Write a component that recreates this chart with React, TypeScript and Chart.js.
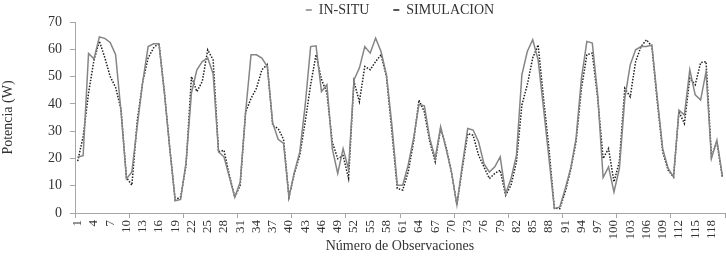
import React, { useEffect, useRef } from 'react';
import { Chart, registerables } from 'chart.js';

Chart.register(...registerables);

// Observation numbers (categories)
const categories: string[] = [
  '1', '2', '3', '4', '5', '6', '7', '8', '9', '10',
  '11', '12', '13', '14', '15', '16', '17', '18', '19', '20',
  '21', '22', '23', '24', '25', '26', '27', '28', '29', '30',
  '31', '32', '33', '34', '35', '36', '37', '38', '39', '40',
  '41', '42', '43', '44', '45', '46', '47', '48', '49', '50',
  '51', '52', '53', '54', '55', '56', '57', '58', '59', '60',
  '61', '62', '63', '64', '65', '66', '67', '68', '69', '70',
  '71', '72', '73', '74', '75', '76', '77', '78', '79', '80',
  '81', '82', '83', '84', '85', '86', '87', '88', '89', '90',
  '91', '92', '93', '94', '95', '96', '97', '98', '99', '100',
  '101', '102', '103', '104', '105', '106', '107', '108', '109', '110',
  '111', '112', '113', '114', '115', '116', '117', '118', '119', '120',
];

// IN-SITU power (W)
const inSitu: number[] = [
  20.5, 21, 58.5, 56.5, 64.5, 64, 62.5, 58, 37, 12.5,
  15, 32, 48, 61, 62, 62, 44, 23.5, 4.5, 5,
  18.5, 44, 52.5, 55.5, 56.8, 51, 22.4, 20.6, 13.2, 5.8,
  11.4, 37, 58, 58, 56.8, 53.7, 33, 27, 25.5, 5.8,
  15, 22.4, 39.6, 61, 61.3, 44.5, 47, 23.6, 14.5, 23.6,
  16, 48.8, 53.1, 61, 58.6, 64.1, 59.2, 50.6, 32.3, 10.2,
  10.2, 17.5, 27.3, 39.8, 39.3, 27.3, 20, 31.6, 23.6, 15,
  3, 17.5, 31, 30.4, 26.1, 18.1, 15, 16.9, 20.6, 7,
  12.6, 21.2, 50.6, 59.2, 63.5, 56.1, 38.4, 20, 1.6, 2.2,
  8.9, 16.3, 27.3, 49.4, 62.9, 62.3, 43.3, 13, 16.9, 7.7,
  16.3, 42, 54.3, 59.8, 61, 61, 61.6, 42, 23.6, 16.3,
  13.2, 37.7, 35.9, 52.5, 43.3, 41.4, 51.8, 20, 26.7, 13.8,
];

// SIMULACION power (W)
const simulacion: number[] = [
  19, 28, 44, 56, 63, 57, 50, 46, 38, 13,
  10.2, 34, 48, 56.8, 60.5, 62.3, 44.5, 23.7, 4.8, 5.9,
  17.5, 50, 44.5, 48.2, 59.8, 56.1, 22.4, 23, 13.8, 5.8,
  10.2, 37, 42, 45.7, 52.5, 54.4, 32, 31, 27, 5.8,
  14.5, 21.2, 33.5, 47, 58, 49, 44, 26, 19.9, 21,
  12.7, 48.2, 40.8, 53.7, 52.5, 55.5, 58, 50, 29.8, 9,
  8.4, 15, 26, 41.4, 37, 26.1, 18.8, 31, 24.3, 15,
  3, 16.3, 29.1, 28.5, 21.2, 16.9, 12.6, 14.5, 15.7, 6.5,
  10.2, 18.8, 39.6, 47, 56.8, 61.6, 42, 23.6, 1.8, 1.6,
  7.7, 15.7, 26.1, 45.7, 58, 58.6, 42, 20, 23.6, 11.4,
  18.8, 45.7, 42.6, 55.5, 61, 63.5, 61, 40.8, 22.4, 15.7,
  13.2, 37.1, 32.8, 49.4, 47, 55.1, 55.5, 20.6, 26.1, 13.2,
];

const Y_MIN = 0;
const Y_MAX = 70;
const Y_STEP = 10;
const LABEL_EVERY = 3;
const TICK_MARK_EVERY = 10;

const FONT = "'Liberation Serif', 'Times New Roman', serif";
const TEXT = '#333333';
const AXIS = '#a6a6a6';

export default function App() {
  const ref = useRef<HTMLCanvasElement>(null);

  useEffect(() => {
    const canvas = ref.current;
    if (!canvas) return;
    const chart = new Chart(canvas, {
      type: 'line',
      data: {
        labels: categories,
        datasets: [
          {
            label: 'IN-SITU',
            data: inSitu,
            borderColor: '#858585',
            backgroundColor: '#858585',
            borderWidth: 1.5,
            pointRadius: 0,
            tension: 0,
            fill: false,
          },
          {
            label: 'SIMULACION',
            data: simulacion,
            borderColor: '#1e1e1e',
            backgroundColor: '#1e1e1e',
            borderWidth: 1.5,
            borderDash: [1.5, 1.5],
            pointRadius: 0,
            tension: 0,
            fill: false,
          },
        ],
      },
      options: {
        responsive: false,
        animation: false,
        devicePixelRatio: 1,
        layout: { padding: { top: -21, right: 1, left: 0, bottom: 0 } },
        plugins: {
          legend: {
            position: 'top',
            fullSize: false,
            maxHeight: 43,
            labels: {
              usePointStyle: true,
              pointStyle: 'line',
              pointStyleWidth: 6,
              padding: 24,
              color: TEXT,
              font: { family: FONT, size: 14 },
            },
          },
          tooltip: { enabled: false },
        },
        scales: {
          x: {
            type: 'category',
            offset: true,
            grid: {
              offset: true,
              drawOnChartArea: false,
              drawTicks: true,
              tickLength: 5,
              tickColor: (c: any) =>
                c.index === undefined || c.index % TICK_MARK_EVERY === 0 ? AXIS : 'rgba(0,0,0,0)',
            },
            border: { color: AXIS, width: 1 },
            ticks: {
              autoSkip: false,
              maxRotation: 90,
              minRotation: 90,
              padding: 2,
              color: TEXT,
              font: { family: FONT, size: 13 },
              callback: (_v: any, i: number) => (i % LABEL_EVERY === 0 ? categories[i] : ''),
            },
            title: {
              display: true,
              text: 'Número de Observaciones',
              color: TEXT,
              font: { family: FONT, size: 14 },
              padding: { top: 0, bottom: 2 },
            },
            afterFit: (s: any) => {
              s.height = 44;
              s.paddingLeft = 0;
              s.paddingRight = 0;
            },
          },
          y: {
            min: Y_MIN,
            max: Y_MAX,
            ticks: {
              stepSize: Y_STEP,
              padding: 8,
              color: TEXT,
              font: { family: FONT, size: 14 },
            },
            grid: {
              drawOnChartArea: false,
              drawTicks: true,
              tickLength: 5,
              tickColor: AXIS,
            },
            border: { color: AXIS, width: 1 },
            title: {
              display: true,
              text: 'Potencia (W)',
              color: TEXT,
              font: { family: FONT, size: 14 },
              padding: { top: 0, bottom: 0 },
            },
            afterFit: (s: any) => {
              s.width = 75;
            },
          },
        },
      },
    });
    return () => chart.destroy();
  }, []);

  return (
    <div style={{ position: 'absolute', left: 0, top: 0, width: 726, height: 257, background: '#ffffff' }}>
      <canvas ref={ref} width={726} height={257} style={{ display: 'block' }} />
    </div>
  );
}
